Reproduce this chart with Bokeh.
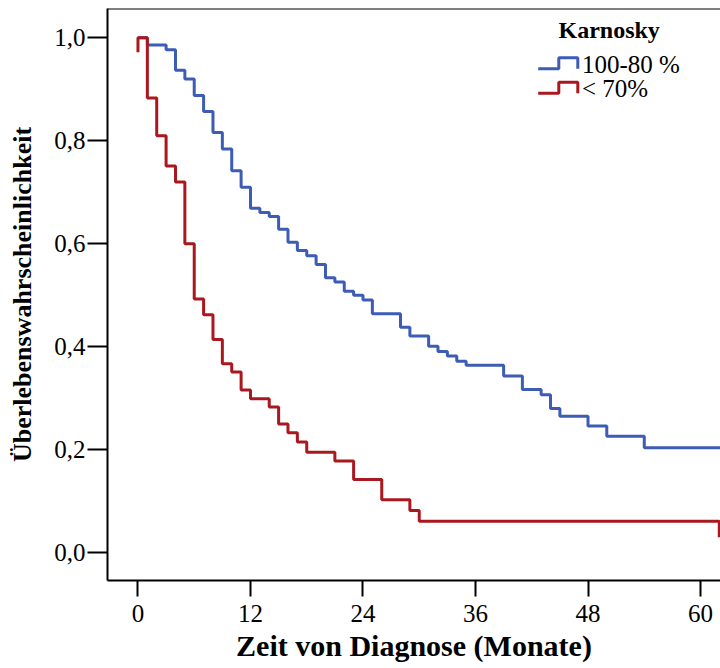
from bokeh.plotting import figure
from bokeh.models import Range1d, FixedTicker, Span, Label
from bokeh.embed import file_html
from bokeh.resources import INLINE

# Kaplan-Meier survival estimates by Karnofsky index (time in months)
time_high = [0, 1, 3, 4, 5, 6, 7, 8, 9, 10, 11, 12, 13, 14, 15, 16, 17, 18, 19,
             20, 21, 22, 23, 24, 25, 28, 29, 31, 32, 33, 34, 35, 39, 41, 43, 44,
             45, 48, 50, 54, 63]
surv_high = [1.0, 0.986, 0.977, 0.937, 0.920, 0.888, 0.857, 0.816, 0.784, 0.742,
             0.710, 0.669, 0.661, 0.653, 0.628, 0.603, 0.587, 0.577, 0.560, 0.534,
             0.526, 0.508, 0.500, 0.491, 0.464, 0.438, 0.421, 0.401, 0.391, 0.382,
             0.372, 0.364, 0.343, 0.317, 0.307, 0.280, 0.265, 0.246, 0.226, 0.204,
             0.204]

time_low = [0, 0, 1, 2, 3, 4, 5, 6, 7, 8, 9, 10, 11, 12, 14, 15, 16, 17, 18,
            21, 23, 26, 29, 30, 62]
surv_low = [0.972, 1.0, 0.883, 0.810, 0.751, 0.720, 0.600, 0.493, 0.462, 0.414,
            0.367, 0.351, 0.316, 0.299, 0.283, 0.250, 0.233, 0.215, 0.195, 0.178,
            0.142, 0.103, 0.082, 0.061, 0.030]

x_ticks = [0, 12, 24, 36, 48, 60]
y_ticks = [0.0, 0.2, 0.4, 0.6, 0.8, 1.0]
y_tick_labels = ["0,0", "0,2", "0,4", "0,6", "0,8", "1,0"]

group_names = ["100-80 %", "< 70%"]
group_colors = ["#3D5CB4", "#A9181E"]
legend_title = "Karnosky"

SERIF = "'Liberation Serif', 'Times New Roman', serif"

X0, X1 = -3.25, 62.13
Y0, Y1 = -0.054, 1.057

p = figure(width=720, height=668, output_backend="svg", toolbar_location=None,
           x_range=Range1d(X0, X1), y_range=Range1d(Y0, Y1),
           min_border_left=107, min_border_right=0, min_border_top=8,
           min_border_bottom=88)
p.grid.visible = False
p.outline_line_color = None
p.background_fill_color = "white"
p.border_fill_color = "white"

# frame top line
p.add_layout(Span(location=Y1, dimension="width", line_color="black", line_width=2))

for ax in (p.xaxis[0], p.yaxis[0]):
    ax.axis_line_width = 2
    ax.axis_line_color = "black"
    ax.major_tick_line_width = 2
    ax.major_tick_in = 0
    ax.minor_tick_line_color = None
    ax.major_label_text_font = SERIF
    ax.major_label_text_font_size = "25px"
    ax.major_label_text_color = "black"
    ax.axis_label_text_font = SERIF
    ax.axis_label_text_font_style = "bold"
    ax.axis_label_text_color = "black"

p.xaxis.ticker = FixedTicker(ticks=x_ticks)
p.xaxis.major_tick_out = 16
p.xaxis.major_label_standoff = 8
p.xaxis.axis_label = "Zeit von Diagnose (Monate)"
p.xaxis.axis_label_text_font_size = "30px"
p.xaxis.axis_label_standoff = 4

p.yaxis.ticker = FixedTicker(ticks=y_ticks)
p.yaxis.major_label_overrides = {t: s for t, s in zip(y_ticks, y_tick_labels)}
p.yaxis.major_tick_out = 20
p.yaxis.major_label_standoff = 2
p.yaxis.axis_label = "Überlebenswahrscheinlichkeit"
p.yaxis.axis_label_text_font_size = "26px"
p.yaxis.axis_label_standoff = 14

p.step(time_high, surv_high, mode="after", line_color=group_colors[0], line_width=3)
p.step(time_low, surv_low, mode="after", line_color=group_colors[1], line_width=3)

# legend drawn by hand: step-shaped icons; positions given in screen pixels
FRAME_L, FRAME_T, FRAME_W, FRAME_H = 107, 8, 613, 572


def dx(px):
    return X0 + (px - FRAME_L) / FRAME_W * (X1 - X0)


def dy(py):
    return Y1 - (py - FRAME_T) / FRAME_H * (Y1 - Y0)


p.add_layout(Label(x=dx(558), y=dy(29), text=legend_title, text_font=SERIF,
                   text_font_style="bold", text_font_size="24px",
                   text_color="black", text_baseline="alphabetic"))

for i, (name, col) in enumerate(zip(group_names, group_colors)):
    off = 24.5 * i
    low, high = 68.3 + off, 57.3 + off
    xs = [dx(537.7), dx(558.3), dx(558.3), dx(577.3), dx(577.3)]
    ys = [dy(low), dy(low), dy(high), dy(high), dy(low)]
    p.line(xs, ys, line_color=col, line_width=3)
    p.add_layout(Label(x=dx(581.5), y=dy(63.5 + off), text=name, text_font=SERIF,
                       text_font_size="25px", text_color="black",
                       text_baseline="alphabetic"))

open("out.html", "w").write(file_html(p, INLINE))
